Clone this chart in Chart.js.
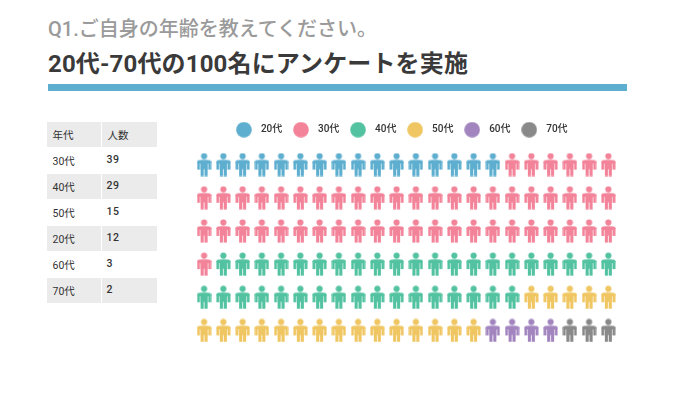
<!DOCTYPE html>
<html lang="ja">
<head>
<meta charset="utf-8" />
<title>Q1</title>
<script src="https://cdn.jsdelivr.net/npm/chart.js"></script>
<style>
    html, body { margin: 0; padding: 0; background: #fff; }
    body { position: relative; width: 674px; height: 410px; overflow: hidden; font-family: Roboto, "Noto Sans CJK JP", sans-serif; }
    #sub { position: absolute; left: 48px; top: 16px; font-size: 20px; font-weight: 500; color: #9a9a9a; line-height: 26px; white-space: nowrap; }
    #main { position: absolute; left: 48px; top: 47px; font-size: 24px; font-weight: 700; color: #3a3a3a; line-height: 34px; white-space: nowrap; letter-spacing: 0.15px; }
    #rule { position: absolute; left: 48px; top: 84px; width: 579px; height: 7px; background: #5eaecf; }
    table { position: absolute; left: 47px; top: 122px; width: 110px; border-collapse: collapse; table-layout: fixed; font-size: 10.5px; color: #333; }
    td { height: 25px; padding: 0 0 0 5.5px; border: 0; border-bottom: 1px solid #fff; border-left: 1px solid #fff; box-sizing: content-box; }
    td:first-child { border-left: 0; width: 48.5px; }
    tr:nth-child(odd) td { background: #ebebeb; }
    td.num { font-weight: 500; letter-spacing: 0.6px; padding-bottom: 2px; height: 23px; padding-left: 4.5px; }
    #wrap { position: absolute; left: 190px; top: 118px; width: 432px; height: 229px; }
</style>
</head>
<body>
<div id="sub">Q1.ご自身の年齢を教えてください。</div>
<div id="main">20代-70代の100名にアンケートを実施</div>
<div id="rule"></div>
<table id="tbl"></table>
<div id="wrap"><canvas id="myChart" width="432" height="229"></canvas></div>
<script>
    // legend / icon grid order
    const ages = ['20代', '30代', '40代', '50代', '60代', '70代'];
    const iconCounts = [16, 51, 38, 20, 4, 3];
    const colors = ['#5eaecf', '#f28399', '#52c2a0', '#efc661', '#a285bf', '#898989'];

    // table on the left
    const tableHeader = ['年代', '人数'];
    const tableAges = ['30代', '40代', '50代', '20代', '60代', '70代'];
    const tablePeople = [39, 29, 15, 12, 3, 2];

    const columns = 22;
    const rows = 6;

    let html = `<tr><td>${tableHeader[0]}</td><td>${tableHeader[1]}</td></tr>`;
    tableAges.forEach((a, i) => {
        html += `<tr><td>${a}</td><td class="num">${tablePeople[i]}</td></tr>`;
    });
    document.getElementById('tbl').innerHTML = html;

    // little person icon, used as the point style
    function personIcon(color) {
        const c = document.createElement('canvas');
        c.width = 15;
        c.height = 24;
        const g = c.getContext('2d');
        g.fillStyle = color;
        g.beginPath();
        g.arc(7.5, 3.6, 3.1, 0, Math.PI * 2);
        g.fill();
        // shoulders and arms
        g.beginPath();
        g.roundRect(0.5, 7.6, 14, 3.5, 2);
        g.fill();
        g.fillRect(0.5, 9, 2.9, 8);
        g.fillRect(11.6, 9, 2.9, 8);
        // torso
        g.fillRect(4, 7.6, 7, 9);
        // legs
        g.fillRect(4, 15, 3.1, 8.6);
        g.fillRect(7.9, 15, 3.1, 8.6);
        return c;
    }

    // bigger round dot for the legend
    function legendDot(color) {
        const c = document.createElement('canvas');
        c.width = 16;
        c.height = 16;
        const g = c.getContext('2d');
        g.fillStyle = color;
        g.beginPath();
        g.arc(8, 8, 7.8, 0, Math.PI * 2);
        g.fill();
        return c;
    }

    // legend sits a little left of the grid's centre
    const legendShift = {
        id: 'legendShift',
        afterLayout(chart) {
            chart.legend.right -= 13;
        }
    };

    // fill the grid left to right, top to bottom
    let n = 0;
    const datasets = ages.map((age, i) => {
        const pts = [];
        for (let k = 0; k < iconCounts[i]; k++) {
            pts.push({ x: n % columns, y: Math.floor(n / columns) });
            n++;
        }
        return {
            label: age,
            data: pts,
            backgroundColor: colors[i],
            borderColor: colors[i],
            pointStyle: personIcon(colors[i]),
            pointRadius: 8
        };
    });

    const ctx = document.getElementById('myChart').getContext('2d');
    new Chart(ctx, {
        type: 'scatter',
        data: { datasets: datasets },
        plugins: [legendShift],
        options: {
            responsive: false,
            animation: false,
            layout: { autoPadding: false, padding: { left: 4.5, right: 4, top: 0, bottom: 0 } },
            plugins: {
                tooltip: { enabled: false },
                legend: {
                    position: 'top',
                    align: 'center',
                    labels: {
                        usePointStyle: true,
                        pointStyleWidth: 24,
                        color: '#333',
                        font: { family: 'Roboto, "Noto Sans CJK JP", sans-serif', size: 10, weight: '500' },
                        padding: 6.7,
                        generateLabels: chart => chart.data.datasets.map((d, i) => ({
                            text: d.label,
                            fillStyle: colors[i],
                            strokeStyle: colors[i],
                            fontColor: '#333',
                            lineWidth: 0,
                            pointStyle: legendDot(colors[i]),
                            datasetIndex: i
                        }))
                    }
                }
            },
            scales: {
                x: { type: 'linear', display: false, min: -0.5, max: columns - 0.5 },
                y: { type: 'linear', display: false, reverse: true, min: -0.6, max: rows - 0.5 }
            }
        }
    });
</script>
</body>
</html>
